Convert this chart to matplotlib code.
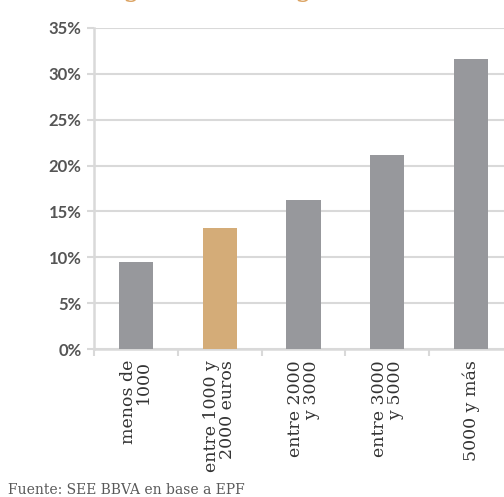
import matplotlib
matplotlib.use("Agg")
import matplotlib.pyplot as plt
from matplotlib.ticker import FixedLocator, PercentFormatter

categories = ["menos de\n1000", "entre 1000 y\n2000 euros", "entre 2000\ny 3000",
              "entre 3000\ny 5000", "5000 y más"]
values = [9.5, 13.2, 16.2, 21.2, 31.6]
bar_colors = ["#97989c", "#d4ac78", "#97989c", "#97989c", "#97989c"]
yticks = [0, 5, 10, 15, 20, 25, 30, 35]
source = "Fuente: SEE BBVA en base a EPF"

W, H, DPI = 504, 497, 100
fig = plt.figure(figsize=(W / DPI, H / DPI), dpi=DPI)
ax = fig.add_axes([94 / W, 1 - 349 / H, 419 / W, 321 / H])

x = list(range(len(categories)))
ax.bar(x, values, width=0.41, color=bar_colors, zorder=3)

ax.set_xlim(-0.5, len(categories) - 0.5)
ax.set_ylim(0, 35)

grid_c = "#d9d9d9"
ax.yaxis.set_major_locator(FixedLocator(yticks))
ax.yaxis.set_major_formatter(PercentFormatter(decimals=0))
ax.grid(axis="y", color=grid_c, linewidth=1.5, zorder=0)

for side in ("top", "right"):
    ax.spines[side].set_visible(False)
for side in ("left", "bottom"):
    ax.spines[side].set_color(grid_c)
    ax.spines[side].set_linewidth(1.8)

ax.tick_params(axis="y", length=5, width=1.5, color=grid_c, pad=4,
               labelsize=12, labelcolor="#555555")
for lab in ax.get_yticklabels():
    lab.set_fontfamily("Lato")
    lab.set_fontweight("bold")

ax.set_xticks(x)
ax.set_xticklabels(categories, rotation=90, fontfamily="DejaVu Serif",
                   fontsize=12.5, color="#333333", linespacing=0.9,
                   ha="center", va="top", multialignment="right")
ax.tick_params(axis="x", which="major", length=0, pad=8)
ax.set_xticks([i - 0.5 for i in range(len(categories) + 1)], minor=True)
ax.tick_params(axis="x", which="minor", length=5, width=1.5, color=grid_c)

fig.text(8 / W, 1 - 490 / H, source, fontfamily="DejaVu Serif", fontsize=10,
         color="#595959", ha="left", va="center")

# title line above the plot, mostly outside the canvas
for tx in (131, 303):
    fig.text(tx / W, 1 + 4.5 / H, "g", fontfamily="DejaVu Serif", fontsize=20,
             color="#dca464", ha="center", va="baseline")

fig.savefig("out.png", dpi=DPI)
